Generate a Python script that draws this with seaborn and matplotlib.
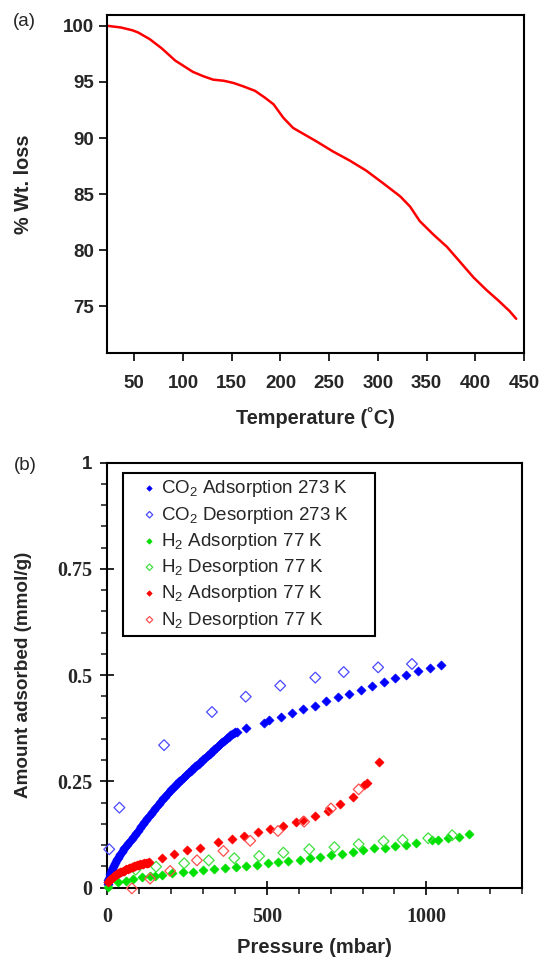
import numpy as np
import pandas as pd
import matplotlib
matplotlib.use("Agg")
import matplotlib.pyplot as plt
import seaborn as sns
from matplotlib.ticker import FixedLocator, MultipleLocator

# ---------------- data: panel (a) TGA ----------------
temp_c = [22, 36, 48, 54, 66, 78, 92, 110, 121, 131, 142, 152, 162, 174, 184, 193,
          203, 213, 225, 237, 254, 271, 288, 305, 323, 333, 343, 357, 371, 384,
          398, 411, 424, 435, 442]
wt_loss = [100.0, 99.85, 99.6, 99.4, 98.8, 98.0, 96.9, 95.9, 95.5, 95.2, 95.1, 94.9,
           94.6, 94.2, 93.6, 93.0, 91.8, 90.9, 90.3, 89.7, 88.8, 88.0, 87.1, 86.0,
           84.8, 83.9, 82.6, 81.4, 80.3, 79.0, 77.6, 76.5, 75.5, 74.6, 73.9]
a_xticks = [50, 100, 150, 200, 250, 300, 350, 400, 450]
a_yticks = [75, 80, 85, 90, 95, 100]

# ---------------- data: panel (b) isotherms ----------------
co2_ads_p = [1, 2, 3, 4, 5, 7, 9, 11, 13, 15, 18, 21, 24, 27, 30, 33, 37, 41, 45, 49,
             53, 57, 61, 66, 71, 76, 81, 86, 91, 96, 101, 106, 111, 116, 121, 126, 131,
             136, 141, 146, 151, 156, 161, 166, 171, 176, 181, 186, 191, 196, 201, 206,
             211, 216, 221, 226, 231, 236, 241, 246, 251, 256, 261, 266, 271, 276, 281,
             286, 291, 296, 301, 306, 311, 316, 321, 326, 331, 336, 341, 346, 351, 356,
             361, 366, 371, 376, 381, 386, 391, 396, 401, 406,
             435, 490, 508, 543, 580, 615, 652, 686, 722, 758, 795, 831, 866, 902,
             937, 973, 1010, 1045]
co2_ads_a = [0.008, 0.013, 0.017, 0.020, 0.023, 0.028, 0.032, 0.037, 0.040, 0.044, 0.049,
             0.053, 0.057, 0.062, 0.066, 0.070, 0.075, 0.080, 0.084, 0.088, 0.092, 0.096,
             0.100, 0.104, 0.109, 0.114, 0.119, 0.124, 0.129, 0.134, 0.139, 0.144, 0.149,
             0.154, 0.159, 0.164, 0.169, 0.174, 0.178, 0.183, 0.188, 0.192, 0.197, 0.201,
             0.206, 0.210, 0.214, 0.219, 0.223, 0.227, 0.231, 0.235, 0.239, 0.243, 0.247,
             0.251, 0.254, 0.258, 0.261, 0.265, 0.268, 0.272, 0.275, 0.278, 0.281, 0.285,
             0.288, 0.291, 0.295, 0.298, 0.302, 0.305, 0.309, 0.312, 0.315, 0.319, 0.322,
             0.326, 0.329, 0.332, 0.336, 0.339, 0.342, 0.345, 0.349, 0.352, 0.355, 0.358,
             0.361, 0.363, 0.365, 0.367,
             0.376, 0.387, 0.393, 0.402, 0.410, 0.421, 0.428, 0.439, 0.448, 0.456, 0.465,
             0.474, 0.483, 0.492, 0.500, 0.509, 0.516, 0.524]
co2_des_p = [6, 38, 178, 328, 434, 542, 652, 741, 849, 955]
co2_des_a = [0.090, 0.188, 0.335, 0.413, 0.449, 0.475, 0.494, 0.507, 0.518, 0.526]

h2_ads_p = [2, 35, 59, 82, 108, 134, 150, 171, 202, 237, 268, 301, 336, 369, 403, 435,
            469, 503, 535, 568, 603, 636, 668, 702, 736, 769, 802, 835, 869, 902, 935,
            969, 1018, 1036, 1068, 1102, 1135]
h2_ads_a = [0.002, 0.012, 0.015, 0.019, 0.024, 0.027, 0.028, 0.029, 0.033, 0.036, 0.037,
            0.041, 0.044, 0.046, 0.049, 0.051, 0.053, 0.057, 0.059, 0.062, 0.065, 0.069,
            0.072, 0.076, 0.080, 0.083, 0.089, 0.092, 0.093, 0.097, 0.101, 0.104, 0.112,
            0.112, 0.117, 0.120, 0.126]
h2_des_p = [89, 153, 241, 318, 398, 476, 552, 633, 712, 788, 866, 926, 1006, 1081]
h2_des_a = [0.042, 0.049, 0.057, 0.064, 0.069, 0.074, 0.082, 0.090, 0.095, 0.102, 0.109,
            0.112, 0.116, 0.123]

n2_ads_p = [3, 6, 9, 12, 15, 18, 21, 24, 27, 30, 33, 36, 40, 44, 48, 52, 56, 60, 64, 68,
            72, 76, 80, 84, 88, 92, 96, 100, 104, 108, 112, 116, 120, 124, 128, 132,
            171, 209, 251, 291, 348, 390, 430, 471, 511, 551, 591, 612, 650,
            692, 730, 770, 804, 814, 851]
n2_ads_a = [0.013, 0.016, 0.019, 0.021, 0.023, 0.025, 0.027, 0.029, 0.030, 0.032, 0.033,
            0.034, 0.036, 0.037, 0.039, 0.040, 0.041, 0.043, 0.044, 0.045, 0.047, 0.048,
            0.049, 0.050, 0.051, 0.052, 0.053, 0.054, 0.055, 0.055, 0.056, 0.057, 0.057,
            0.058, 0.058, 0.059,
            0.070, 0.079, 0.088, 0.094, 0.106, 0.115, 0.122, 0.130, 0.137, 0.145, 0.153,
            0.159, 0.168, 0.181, 0.196, 0.214, 0.241, 0.246, 0.296]
n2_des_p = [77, 134, 197, 281, 364, 448, 535, 617, 701, 788]
n2_des_a = [-0.002, 0.021, 0.039, 0.064, 0.086, 0.110, 0.133, 0.155, 0.186, 0.231]

b_xticks = [0, 500, 1000]
b_xticklabels = ["0", "500", "1000"]
b_yticks = [0, 0.25, 0.5, 0.75, 1]
b_yticklabels = ["0", "0.25", "0.5", "0.75", "1"]

series_labels = ["CO$_2$ Adsorption 273 K", "CO$_2$ Desorption 273 K",
                 "H$_2$ Adsorption 77 K", "H$_2$ Desorption 77 K",
                 "N$_2$ Adsorption 77 K", "N$_2$ Desorption 77 K"]

# ---------------- style ----------------
sns.set_style("ticks")
plt.rcParams["font.family"] = ["Liberation Sans", "DejaVu Sans"]
plt.rcParams["mathtext.fontset"] = "custom"
plt.rcParams["mathtext.rm"] = "Liberation Sans"
plt.rcParams["mathtext.default"] = "regular"

fig = plt.figure(figsize=(5.4, 9.57), dpi=100)
fig.patch.set_facecolor("white")
ax1 = fig.add_axes([0.1989, 0.6311, 0.7715, 0.3537])
ax2 = fig.add_axes([0.1987, 0.0726, 0.768, 0.4441])

# ---------------- panel (a) ----------------
dfa = pd.DataFrame({"T": temp_c, "W": wt_loss})
sns.lineplot(data=dfa, x="T", y="W", color="#ff0000", linewidth=1.8, ax=ax1, sort=False)
ax1.set_xlim(22.4, 450)
ax1.set_ylim(70.85, 101.0)
ax1.xaxis.set_major_locator(FixedLocator(a_xticks))
ax1.yaxis.set_major_locator(FixedLocator(a_yticks))
ax1.set_xticklabels([str(v) for v in a_xticks])
ax1.set_yticklabels([str(v) for v in a_yticks])
ax1.tick_params(axis="both", direction="out", length=5.5, width=1.4, labelsize=13.5,
                top=False, right=False)
ax1.tick_params(axis="x", pad=10)
ax1.tick_params(axis="y", pad=4)
for lab in ax1.get_xticklabels() + ax1.get_yticklabels():
    lab.set_fontweight("bold")
ax1.set_xlabel("Temperature (˚C)", fontsize=14.3, fontweight="bold", labelpad=11)
ax1.set_ylabel("% Wt. loss", fontsize=14.3, fontweight="bold", labelpad=22)
for sp in ax1.spines.values():
    sp.set_visible(True)
    sp.set_linewidth(1.5)
    sp.set_color("black")
fig.text(24.5 / 540, 1 - 22 / 957, "(a)", fontsize=13.5, ha="center", va="center")

# ---------------- panel (b) ----------------
blue, green, red = "#0000ff", "#00e000", "#ff0000"
fill_kw = dict(marker="D", s=22, linewidth=0.4, ax=ax2, clip_on=False, zorder=3)
open_kw = dict(marker="D", s=30, linewidth=0.9, facecolor="none", ax=ax2,
               clip_on=False, zorder=3)

sns.scatterplot(x=co2_ads_p, y=co2_ads_a, color=blue, edgecolor=blue,
                label=series_labels[0], **fill_kw)
sns.scatterplot(x=co2_des_p, y=co2_des_a, edgecolor="#4a4aff",
                label=series_labels[1], **open_kw)
sns.scatterplot(x=h2_ads_p, y=h2_ads_a, color=green, edgecolor=green,
                label=series_labels[2], **fill_kw)
sns.scatterplot(x=h2_des_p, y=h2_des_a, edgecolor="#40e040",
                label=series_labels[3], **open_kw)
sns.scatterplot(x=n2_ads_p, y=n2_ads_a, color=red, edgecolor=red,
                label=series_labels[4], **fill_kw)
sns.scatterplot(x=n2_des_p, y=n2_des_a, edgecolor="#ff5050",
                label=series_labels[5], **open_kw)

ax2.set_xlim(0, 1300)
ax2.set_ylim(0, 1)
ax2.xaxis.set_major_locator(FixedLocator(b_xticks))
ax2.yaxis.set_major_locator(FixedLocator(b_yticks))
ax2.xaxis.set_minor_locator(MultipleLocator(100))
ax2.yaxis.set_minor_locator(MultipleLocator(0.05))
ax2.set_xticklabels(b_xticklabels)
ax2.set_yticklabels(b_yticklabels)
ax2.tick_params(axis="both", which="major", direction="inout", length=9.5, width=1.4,
                labelsize=14.5, top=False, right=False)
ax2.tick_params(axis="x", which="major", pad=9)
ax2.tick_params(axis="y", which="major", pad=6)
ax2.tick_params(axis="both", which="minor", direction="out", length=4, width=1.2,
                top=False, right=False)
for lab in ax2.get_xticklabels() + ax2.get_yticklabels():
    lab.set_fontweight("bold")
    lab.set_fontfamily("Liberation Serif")
ax2.get_yticklabels()[-1].set_fontfamily("Liberation Sans")
ax2.get_yticklabels()[-1].set_fontsize(13.5)
ax2.set_xlabel("Pressure (mbar)", fontsize=14.5, fontweight="bold", labelpad=8)
ax2.set_ylabel("Amount adsorbed (mmol/g)", fontsize=13.6, fontweight="bold", labelpad=18)
for sp in ax2.spines.values():
    sp.set_visible(True)
    sp.set_linewidth(1.5)
    sp.set_color("black")

leg = ax2.legend(loc="upper left", bbox_to_anchor=(0.038, 0.975, 0.608, 0.0),
                 mode="expand", borderaxespad=0, frameon=True, fancybox=False,
                 edgecolor="black", fontsize=13.5, handlelength=2.26, handletextpad=-0.5,
                 borderpad=0.28, labelspacing=0.28, markerscale=0.6)
leg.get_frame().set_linewidth(1.5)
leg.get_frame().set_alpha(1)
fig.text(25 / 540, 1 - 466 / 957, "(b)", fontsize=13.5, ha="center", va="center")

fig.savefig("out.png", dpi=100, facecolor="white")
